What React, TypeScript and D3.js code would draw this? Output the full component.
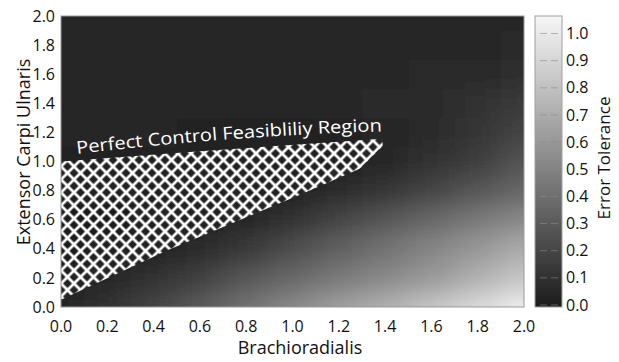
import React from "react";
import * as d3 from "d3";

// ---- data ----
const xGrid = [0, 0.2, 0.4, 0.6, 0.8, 1.0, 1.2, 1.4, 1.6, 1.8, 2.0];
const yGrid = [0, 0.2, 0.4, 0.6, 0.8, 1.0, 1.2, 1.4, 1.6, 1.8, 2.0];
// errorTolerance[row j = yGrid[j]][col i = xGrid[i]]
const errorTolerance = [
  [0.06, 0.11, 0.2, 0.3, 0.42, 0.53, 0.63, 0.72, 0.82, 0.92, 1.02],
  [0.02, 0.05, 0.1, 0.18, 0.28, 0.37, 0.45, 0.53, 0.61, 0.72, 0.83],
  [0.01, 0.02, 0.04, 0.07, 0.14, 0.24, 0.33, 0.42, 0.51, 0.6, 0.7],
  [0.01, 0.01, 0.02, 0.03, 0.05, 0.11, 0.2, 0.28, 0.37, 0.45, 0.53],
  [0.02, 0.02, 0.02, 0.02, 0.03, 0.04, 0.07, 0.12, 0.2, 0.28, 0.37],
  [0.04, 0.04, 0.03, 0.03, 0.03, 0.03, 0.04, 0.06, 0.11, 0.16, 0.27],
  [0.05, 0.05, 0.05, 0.04, 0.04, 0.04, 0.04, 0.05, 0.07, 0.12, 0.2],
  [0.05, 0.06, 0.05, 0.06, 0.05, 0.05, 0.06, 0.07, 0.08, 0.11, 0.15],
  [0.05, 0.05, 0.06, 0.05, 0.06, 0.05, 0.05, 0.06, 0.07, 0.07, 0.09],
  [0.06, 0.05, 0.06, 0.06, 0.05, 0.06, 0.06, 0.05, 0.06, 0.06, 0.07],
  [0.05, 0.06, 0.05, 0.06, 0.06, 0.05, 0.06, 0.06, 0.05, 0.06, 0.06],
];
// feasibility region outline (Brachioradialis, Extensor Carpi Ulnaris)
const regionX = [0, 0, 0.46, 1.03, 1.29, 1.39, 1.387, 0.6, 0];
const regionY = [1.0, 0.05, 0.39, 0.77, 0.95, 1.107, 1.156, 1.07, 1.0];

const xTicks = [0, 0.2, 0.4, 0.6, 0.8, 1.0, 1.2, 1.4, 1.6, 1.8, 2.0];
const yTicks = [0, 0.2, 0.4, 0.6, 0.8, 1.0, 1.2, 1.4, 1.6, 1.8, 2.0];
const cbTicks = [0, 0.1, 0.2, 0.3, 0.4, 0.5, 0.6, 0.7, 0.8, 0.9, 1.0];

const regionLabel = "Perfect Control Feasibliliy Region";
const xTitle = "Brachioradialis";
const yTitle = "Extensor Carpi Ulnaris";
const cbTitle = "Error Tolerance";

const W = 619;
const H = 362;
const FONT = "'Open Sans', 'DejaVu Sans', sans-serif";

export default function App() {
  const x = d3.scaleLinear().domain([0, 2]).range([61, 524]);
  const y = d3.scaleLinear().domain([0, 2]).range([307, 16]);
  const color = d3
    .scaleLinear<string>()
    .domain([0, 1.06])
    .range(["#1c1c1c", "#f6f6f6"])
    .clamp(true);
  const cbY = d3.scaleLinear().domain([0, 1.0]).range([305, 33.5]);
  const cbX0 = 535;
  const cbX1 = 562;
  const cbTop = 16;
  const cbBottom = 307;

  const [x0, x1] = x.range();
  const [yb, yt] = y.range();

  const cells: { key: string; x: number; y: number; w: number; h: number; fill: string }[] = [];
  errorTolerance.forEach((row, j) => {
    row.forEach((v, i) => {
      let left = x(xGrid[i] - 0.1);
      let right = x(xGrid[i] + 0.1);
      let top = y(yGrid[j] + 0.1);
      let bottom = y(yGrid[j] - 0.1);
      if (i === 0) left -= 60;
      if (i === xGrid.length - 1) right += 60;
      if (j === 0) bottom += 60;
      if (j === yGrid.length - 1) top -= 60;
      cells.push({
        key: `${i}-${j}`,
        x: left,
        y: top,
        w: right - left + 0.5,
        h: bottom - top + 0.5,
        fill: color(v),
      });
    });
  });

  const regionPath =
    d3.line<number>()
      .x((i) => x(regionX[i]))
      .y((i) => y(regionY[i]))(regionX.map((_, i) => i)) + "Z";

  const tile = 13 / Math.SQRT2;

  // colorbar gradient stops
  const cbMax = cbY.invert(cbTop);
  const cbMin = cbY.invert(cbBottom);
  const stops = d3.range(0, 11).map((k) => {
    const v = cbMin + ((cbMax - cbMin) * k) / 10;
    return { offset: `${k * 10}%`, color: color(v) };
  });

  return (
    <svg width={W} height={H} style={{ position: "absolute", left: 0, top: 0, background: "#fff" }}>
      <defs>
        <clipPath id="plotClip">
          <rect x={x0} y={yt} width={x1 - x0} height={yb - yt} />
        </clipPath>
        <filter id="smooth" x="-20%" y="-20%" width="140%" height="140%">
          <feGaussianBlur stdDeviation="17 11" edgeMode="duplicate" />
        </filter>
        <pattern
          id="hatch"
          patternUnits="userSpaceOnUse"
          width={tile}
          height={tile}
          patternTransform="translate(61,160) rotate(45)"
        >
          <path
            d={`M0,${tile / 2}H${tile} M${tile / 2},0V${tile}`}
            stroke="#ffffff"
            strokeWidth={2.7}
          />
        </pattern>
        <linearGradient id="cbGrad" x1="0" y1="1" x2="0" y2="0">
          {stops.map((s) => (
            <stop key={s.offset} offset={s.offset} stopColor={s.color} />
          ))}
        </linearGradient>
        <path id="labelPath" d="M77,154 Q230,135.6 392,131" />
      </defs>

      {/* heatmap */}
      <g clipPath="url(#plotClip)">
        <g filter="url(#smooth)">
          {cells.map((c) => (
            <rect key={c.key} x={c.x} y={c.y} width={c.w} height={c.h} fill={c.fill} />
          ))}
        </g>
        <path d={regionPath} fill="url(#hatch)" />
      </g>
      <rect x={x0} y={yt} width={x1 - x0} height={yb - yt} fill="none" stroke="#9a9a9a" strokeWidth={1} />

      {/* region label */}
      <text fill="#ffffff" fontFamily={FONT} fontSize={17.5}>
        <textPath href="#labelPath" textLength={306} lengthAdjust="spacingAndGlyphs">
          {regionLabel}
        </textPath>
      </text>

      {/* x axis */}
      {xTicks.map((t) => (
        <text
          key={`xt${t}`}
          x={x(t)}
          y={332}
          textAnchor="middle"
          fontFamily={FONT}
          fontSize={16}
          fill="#111"
        >
          {t.toFixed(1)}
        </text>
      ))}
      <text x={300} y={354} textAnchor="middle" fontFamily={FONT} fontSize={18} fill="#111">
        {xTitle}
      </text>

      {/* y axis */}
      {yTicks.map((t) => (
        <text
          key={`yt${t}`}
          x={55}
          y={y(t)}
          dy="0.35em"
          textAnchor="end"
          fontFamily={FONT}
          fontSize={16}
          fill="#111"
        >
          {t.toFixed(1)}
        </text>
      ))}
      <text
        transform={`translate(30,152) rotate(-90)`}
        textAnchor="middle"
        fontFamily={FONT}
        fontSize={18}
        fill="#111"
      >
        {yTitle}
      </text>

      {/* colorbar */}
      <rect x={cbX0} y={cbTop} width={cbX1 - cbX0} height={cbBottom - cbTop} fill="url(#cbGrad)" stroke="#a0a0a0" strokeWidth={1} />
      {cbTicks.map((t) => (
        <line
          key={`cbl${t}`}
          x1={cbX0 + 5}
          x2={cbX1}
          y1={cbY(t)}
          y2={cbY(t)}
          stroke="#8a8a8a"
          strokeOpacity={0.6}
          strokeWidth={1}
          strokeDasharray="7,4"
        />
      ))}
      {cbTicks.map((t) => (
        <text
          key={`cbt${t}`}
          x={566}
          y={cbY(t)}
          dy="0.35em"
          fontFamily={FONT}
          fontSize={16}
          fill="#111"
        >
          {t.toFixed(1)}
        </text>
      ))}
      <text
        transform={`translate(610,158) rotate(-90)`}
        textAnchor="middle"
        fontFamily={FONT}
        fontSize={17}
        fill="#111"
      >
        {cbTitle}
      </text>
    </svg>
  );
}
